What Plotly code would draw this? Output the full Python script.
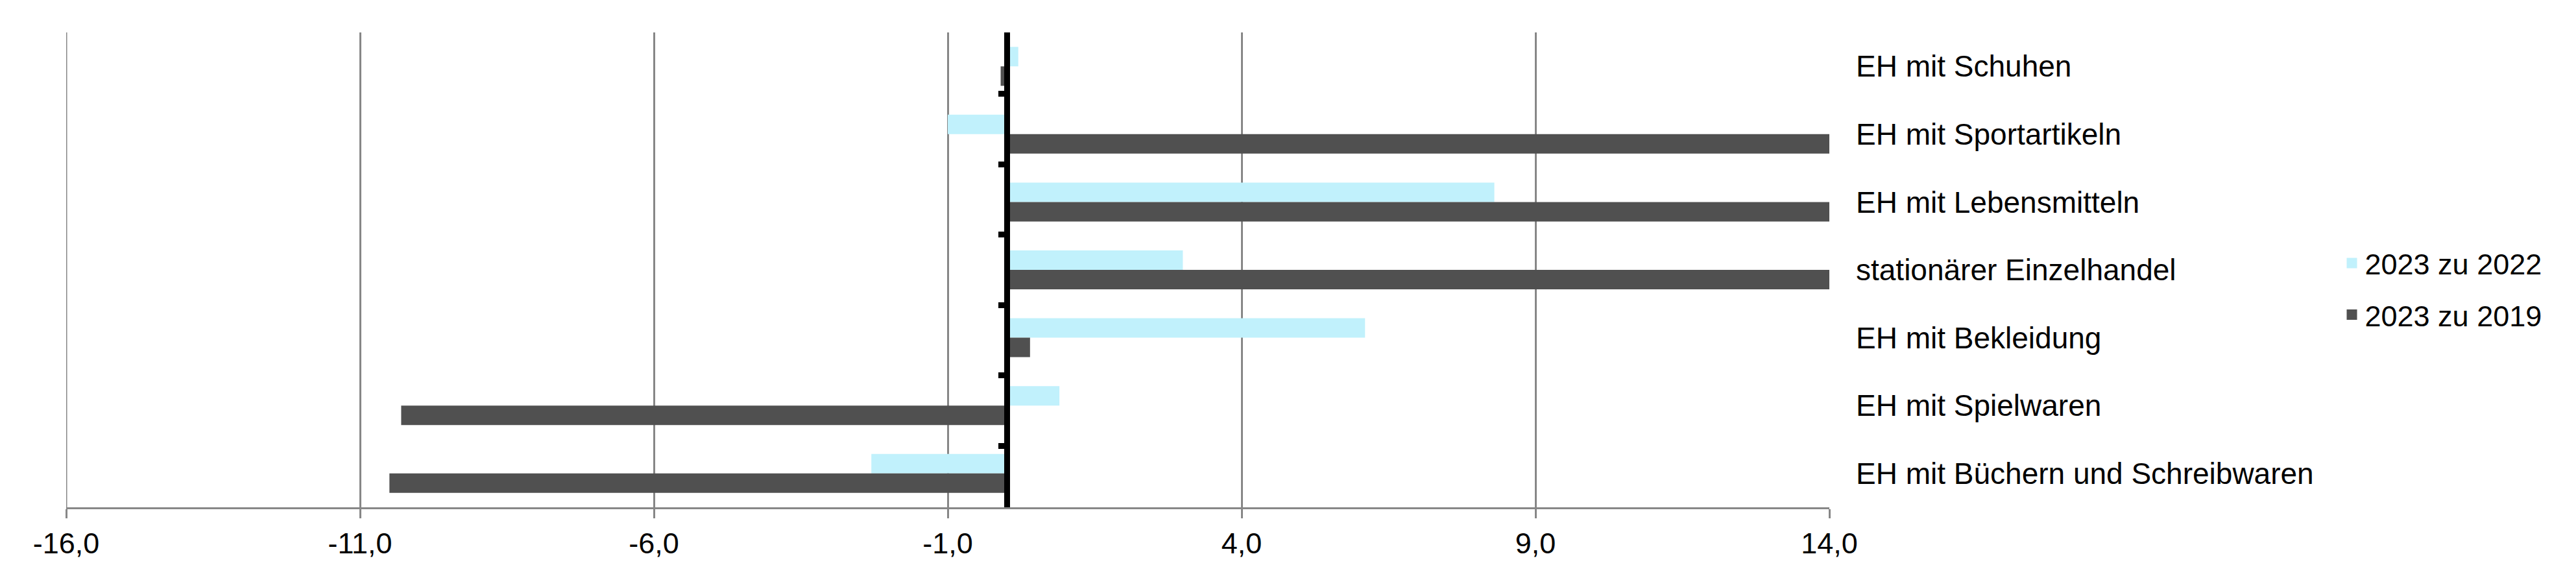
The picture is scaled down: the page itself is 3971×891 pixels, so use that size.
import plotly.graph_objects as go

# Data
categories = [
    "EH mit Schuhen",
    "EH mit Sportartikeln",
    "EH mit Lebensmitteln",
    "stationärer Einzelhandel",
    "EH mit Bekleidung",
    "EH mit Spielwaren",
    "EH mit Büchern und Schreibwaren",
]
change_vs_2022 = [0.2, -1.0, 8.3, 3.0, 6.1, 0.9, -2.3]
change_vs_2019 = [-0.1, 19.7, 17.4, 15.2, 0.4, -10.3, -10.5]  # bars > 14 are cut at the axis end
series_names = ["2023 zu 2022", "2023 zu 2019"]
x_ticks = [-16, -11, -6, -1, 4, 9, 14]
x_tick_labels = ["-16,0", "-11,0", "-6,0", "-1,0", "4,0", "9,0", "14,0"]

LIGHT = "#C1F1FC"
DARK = "#505050"
GRID = "#878787"
FONT = "Liberation Sans, Arial, sans-serif"

fig = go.Figure()

for name, vals, col in [(series_names[0], change_vs_2022, LIGHT),
                        (series_names[1], change_vs_2019, DARK)]:
    fig.add_trace(go.Bar(
        x=vals, y=categories, orientation="h", name=name,
        marker=dict(color=col, line=dict(width=0)),
        showlegend=False,
        hovertemplate="%{y}<br>%{x:.1f}<extra>" + name + "</extra>",
    ))

# legend entries with larger square symbols
for i, (name, col) in enumerate([(series_names[0], LIGHT), (series_names[1], DARK)]):
    fig.add_trace(go.Scatter(
        x=[None], y=[None], mode="markers", name=name,
        marker=dict(symbol="square", size=22, color=col),
        legendgroup=f"g{i}",
    ))

# invisible helper trace so the zero-line axis (y2) gets drawn
fig.add_trace(go.Scatter(
    x=[0] * len(categories), y=categories, yaxis="y2", mode="markers",
    marker=dict(opacity=0), showlegend=False, hoverinfo="skip",
))

# plotly drops the gridline on the left edge, draw it explicitly
fig.add_vline(x=x_ticks[0], line=dict(color=GRID, width=3), layer="below")

# page body adds an 8px offset, so the figure is a bit smaller than the window
fig.update_layout(
    width=3963, height=883,
    margin=dict(l=94, r=1151, t=42, b=109),
    paper_bgcolor="#ffffff",
    plot_bgcolor="#ffffff",
    font=dict(family=FONT, size=45, color="#000000"),
    barmode="group",
    bargap=0.426,
    bargroupgap=0,
    legend=dict(
        x=1.289, xanchor="left", y=0.46, yanchor="middle",
        font=dict(size=45), traceorder="grouped", tracegroupgap=18,
        itemwidth=30, bgcolor="rgba(0,0,0,0)",
    ),
    xaxis=dict(
        range=[-16, 14], tickvals=x_ticks, ticktext=x_tick_labels,
        showgrid=True, gridcolor=GRID, gridwidth=3,
        zeroline=False,
        showline=True, linecolor=GRID, linewidth=3,
        ticks="outside", ticklen=14, tickwidth=3, tickcolor=GRID,
        tickfont=dict(size=45),
    ),
    yaxis=dict(
        type="category", categoryorder="array", categoryarray=categories,
        autorange="reversed", side="right",
        showgrid=False, zeroline=False, showline=False, ticks="",
        ticklabelstandoff=40, tickfont=dict(size=46),
    ),
    yaxis2=dict(
        type="category", categoryorder="array", categoryarray=categories,
        autorange="reversed", overlaying="y", anchor="free",
        position=16 / 30, side="left",
        showgrid=False, zeroline=False,
        showline=True, linecolor="#000000", linewidth=9,
        ticks="outside", tickson="boundaries", ticklen=9, tickwidth=9,
        tickcolor="#000000", showticklabels=False,
    ),
)

fig.write_html("out.html")
